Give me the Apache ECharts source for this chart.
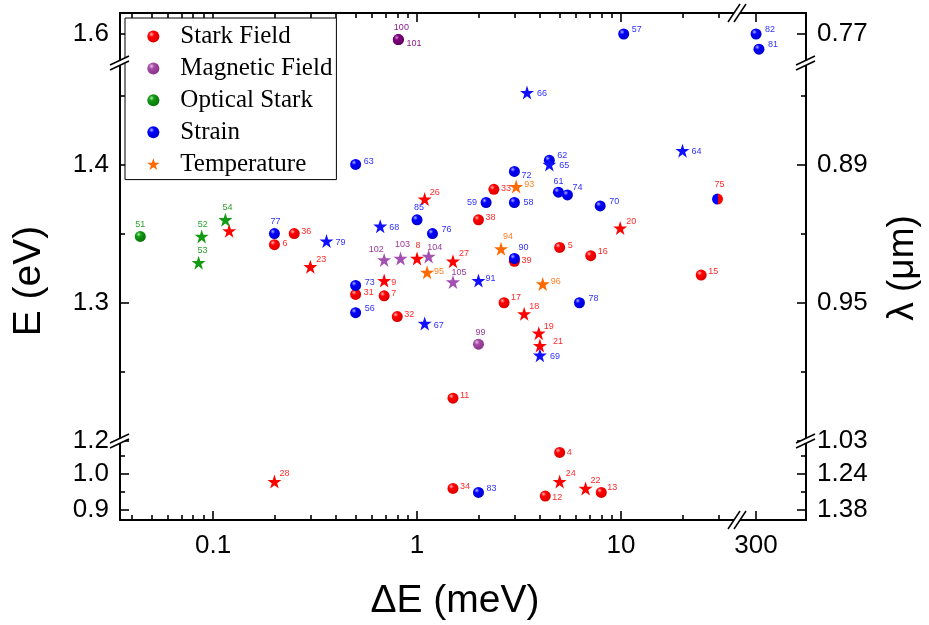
<!DOCTYPE html>
<html><head><meta charset="utf-8">
<script src="https://cdn.jsdelivr.net/npm/echarts@6/dist/echarts.min.js"></script>
<style>html,body{margin:0;padding:0;background:#fff}#c{width:929px;height:625px}</style>
</head><body><div id="c"></div>
<script>
// ---- Data: [ΔE (meV), E (eV), label] ----
const starkBalls = [[0.2,1.342,'6'],[0.25,1.350,'36'],[0.5,1.306,'31'],[0.69,1.305,'7'],[0.8,1.290,'32'],[2.0,1.360,'38'],[2.38,1.382,'33'],[3.0,1.330,'39'],[2.67,1.300,'17'],[5.0,1.340,'5'],[7.1,1.334,'16'],[24.7,1.320,'15'],[1.5,1.231,'11'],[1.5,0.959,'34'],[5.0,1.059,'4'],[4.25,0.938,'12'],[8.0,0.948,'13']];
const starkStrainBalls = [[29.7,1.375,'75']];
const starkStars = [[0.12,1.352,''],[0.3,1.326,'23'],[0.69,1.316,'9'],[1.0,1.332,'8'],[1.5,1.330,'27'],[1.09,1.375,'26'],[9.9,1.354,'20'],[3.35,1.292,'18'],[3.95,1.278,'19'],[4.0,1.269,'21'],[0.2,0.978,'28'],[5.0,0.978,'24'],[6.7,0.959,'22']];
const magBalls = [[2.0,1.270,'99']];
const magBallsDark = [[0.81,1.596,'100'],[0.81,1.596,'101']];
const magStars = [[0.69,1.331,'102'],[0.83,1.332,'103'],[1.14,1.3335,'104'],[1.5,1.315,'105']];
const optBalls = [[0.044,1.348,'51']];
const optStars = [[0.088,1.348,'52'],[0.085,1.329,'53'],[0.115,1.360,'54']];
const strainBalls = [[0.5,1.400,'63'],[0.2,1.350,'77'],[0.5,1.3125,'73'],[0.5,1.2928,'56'],[1.0,1.360,'85'],[1.19,1.350,'76'],[3.0,1.332,'90'],[6.25,1.300,'78'],[2.18,1.3725,'59'],[3.0,1.3725,'58'],[3.0,1.395,'72'],[4.45,1.403,'62'],[4.93,1.380,'61'],[5.46,1.378,'74'],[7.9,1.370,'70'],[10.3,1.600,'57'],[300,1.600,'82'],[310,1.589,'81'],[2.0,0.948,'83']];
const strainStars = [[0.36,1.3446,'79'],[0.66,1.3553,'68'],[2.0,1.316,'91'],[1.09,1.285,'67'],[4.0,1.262,'69'],[3.46,1.452,'66'],[4.45,1.400,'65'],[20,1.410,'64']];
const tempStars = [[3.06,1.384,'93'],[2.58,1.339,'94'],[1.12,1.322,'95'],[4.13,1.3136,'96']];
const legendNames = ['Stark Field','Magnetic Field','Optical Stark','Strain','Temperature'];

// ---- Tick values / labels ----
const xTickVals = [0.1, 1, 10, 300];
const xTickText = ['0.1', '1', '10', '300'];
const xMinorVals = [0.04,0.05,0.06,0.07,0.08,0.09,0.2,0.3,0.4,0.5,0.6,0.7,0.8,0.9,2,3,4,5,6,7,8,9,20,30];
const eTickVals = [1.6, 1.4, 1.3, 1.2, 1.0, 0.9];
const eTickText = ['1.6','1.4','1.3','1.2','1.0','0.9'];
const lambdaTickText = ['0.77','0.89','0.95','1.03','1.24','1.38'];
const eMinorVals = [1.45, 1.35, 1.25, 1.05, 0.95];

// ---- Broken-axis layout (pixels) and segment ranges ----
const gx = [120, 737, 806];
const gy = [13, 63, 441, 520];
const xRanges = [[0.035, 37], [242, 527]];
const yRanges = [[1.579, 1.6152], [1.2, 1.4734], [0.8714, 1.0908]];

// label placement style: [dx, dy, align]
const labelPlace = {
 '51':[0,-12,'center'],'52':[1,-12,'center'],'53':[4,-12,'center'],'54':[2,-12,'center'],'77':[1,-12,'center'],
 '6':[8,-1,'left'],'36':[7,-2,'left'],'79':[9,1,'left'],'23':[6,-7,'left'],'68':[9,1,'left'],
 '102':[-8,-10,'center'],'103':[2,-14,'center'],'8':[1,-13,'center'],'104':[6,-9,'center'],'27':[6,-8,'left'],
 '9':[7,2,'left'],'7':[7,-2,'left'],'73':[9,-3,'left'],'31':[8,-2,'left'],'56':[9,-4,'left'],
 '85':[2,-12,'center'],'76':[9,-4,'left'],'38':[7,-2,'left'],'95':[7,-1,'left'],'105':[6,-9,'center'],
 '91':[7,-2,'left'],'94':[7,-12,'center'],'90':[9,-11,'center'],'39':[7,-1,'left'],'5':[8,-2,'left'],
 '16':[7,-4,'left'],'20':[6,-7,'left'],'96':[8,-2,'left'],'17':[7,-5,'left'],'78':[9,-4,'left'],
 '18':[5,-7,'left'],'32':[7,-2,'left'],'67':[9,2,'left'],'19':[5,-7,'left'],'21':[13,-4,'left'],
 '69':[10,1,'left'],'99':[2,-12,'center'],'11':[7,-3,'left'],'59':[-9,0,'right'],'33':[7,-1,'left'],
 '93':[8,-2,'left'],'72':[7,4,'left'],'58':[9,0,'left'],'26':[5,-7,'left'],'62':[8,-5,'left'],
 '65':[10,1,'left'],'61':[0,-11,'center'],'74':[5,-7,'left'],'70':[9,-4,'left'],'66':[10,1,'left'],
 '57':[8,-4,'left'],'100':[3,-12,'center'],'101':[8,4,'left'],'82':[9,-4,'left'],'81':[9,-5,'left'],
 '64':[9,1,'left'],'75':[2,-15,'center'],'15':[7,-4,'left'],'28':[5,-8,'left'],'34':[7,-2,'left'],
 '83':[8,-4,'left'],'4':[7,0,'left'],'24':[6,-8,'left'],'22':[5,-8,'left'],'12':[7,1,'left'],'13':[6,-5,'left']
};

const STAR = 'path://M50,0 L61.8,35.3 L99,35.3 L69,57.1 L80.3,92.7 L50,70.9 L19.7,92.7 L31,57.1 L1,35.3 L38.2,35.3 Z';
function ball(c, light, dark) {
  return {type:'radial', x:0.35, y:0.32, r:0.75, colorStops:[{offset:0,color:light},{offset:0.3,color:c},{offset:1,color:dark}]};
}
const halfBall = {type:'linear', x:0, y:0, x2:1, y2:0, colorStops:[{offset:0,color:'#0000ff'},{offset:0.5,color:'#0000ff'},{offset:0.5,color:'#ff0000'},{offset:1,color:'#ff0000'}]};

const FONT = 'Liberation Sans';
function near(a, b) { return Math.abs(a - b) < 1e-6; }
function fmtX(v) { const i = xTickVals.findIndex(t => near(t, v)); return i >= 0 ? xTickText[i] : ''; }
function fmtE(v) { const i = eTickVals.findIndex(t => near(t, v)); return i >= 0 ? eTickText[i] : ''; }
function fmtL(v) { const i = eTickVals.findIndex(t => near(t, v)); return i >= 0 ? lambdaTickText[i] : ''; }

const grids = [], xAxes = [], yAxes = [];
const lineStyle = {color:'#000', width:2};
const tickStyle = {color:'#000', width:1.6};
for (let r = 0; r < 3; r++) for (let c = 0; c < 2; c++) {
  grids.push({left:gx[c], width:gx[c+1]-gx[c], top:gy[r], height:gy[r+1]-gy[r], containLabel:false, outerBoundsMode:'none'});
}
function inR(v, rg) { return v >= rg[0] - 1e-9 && v <= rg[1] + 1e-9; }
// data axes (index = grid index)
for (let r = 0; r < 3; r++) for (let c = 0; c < 2; c++) {
  const g = r*2 + c;
  const xm = xTickVals.filter(v => inR(v, xRanges[c]));
  xAxes.push({
    gridIndex:g, type:'log', logBase:10, min:xRanges[c][0], max:xRanges[c][1],
    position: r === 0 ? 'top' : 'bottom', show: r !== 1,
    axisLine:{show:true, onZero:false, lineStyle},
    axisTick:{show:true, inside:true, length:9, lineStyle:tickStyle, customValues:xm},
    axisLabel:{show: r === 2, customValues:xm, formatter:fmtX, fontSize:26, fontFamily:FONT, color:'#000', margin:13},
    splitLine:{show:false}, minorTick:{show:false}
  });
}
for (let r = 0; r < 3; r++) for (let c = 0; c < 2; c++) {
  const g = r*2 + c;
  const ym = eTickVals.filter(v => inR(v, yRanges[r]));
  yAxes.push({
    gridIndex:g, type:'value', min:yRanges[r][0], max:yRanges[r][1],
    position: c === 0 ? 'left' : 'right',
    axisLine:{show:true, onZero:false, lineStyle},
    axisTick:{show:true, inside:true, length:9, lineStyle:tickStyle, customValues:ym},
    axisLabel:{show:true, customValues:ym, formatter: c === 0 ? fmtE : fmtL, fontSize:26, fontFamily:FONT, color:'#000', margin:11},
    splitLine:{show:false}, minorTick:{show:false}
  });
}
// minor tick axes
for (const r of [0, 2]) {
  const c = 0, g = r*2 + c;
  xAxes.push({
    gridIndex:g, type:'log', logBase:10, min:xRanges[c][0], max:xRanges[c][1],
    position: r === 0 ? 'top' : 'bottom',
    axisLine:{show:false, onZero:false},
    axisTick:{show:true, inside:true, length:5, lineStyle:tickStyle, customValues:xMinorVals.filter(v => inR(v, xRanges[c]))},
    axisLabel:{show:false}, splitLine:{show:false}
  });
}
for (let r = 0; r < 3; r++) for (let c = 0; c < 2; c++) {
  const mv = eMinorVals.filter(v => inR(v, yRanges[r]));
  if (!mv.length) continue;
  yAxes.push({
    gridIndex:r*2+c, type:'value', min:yRanges[r][0], max:yRanges[r][1],
    position: c === 0 ? 'left' : 'right',
    axisLine:{show:false, onZero:false},
    axisTick:{show:true, inside:true, length:5, lineStyle:tickStyle, customValues:mv},
    axisLabel:{show:false}, splitLine:{show:false}
  });
}

const series = [];
function addSeries(name, pts, symbol, size, color, labelColor) {
  for (let r = 0; r < 3; r++) for (let c = 0; c < 2; c++) {
    const sub = pts.filter(p => inR(p[0], xRanges[c]) && inR(p[1], yRanges[r]));
    if (!sub.length && !(r === 1 && c === 0)) continue;
    series.push({
      type:'scatter', name, xAxisIndex:r*2+c, yAxisIndex:r*2+c, symbol, symbolSize:size,
      itemStyle:{color, opacity:1}, emphasis:{disabled:true}, animation:false,
      label:{show:true, position:'inside', formatter:'{b}', fontSize:9, fontFamily:FONT, color:labelColor, verticalAlign:'middle'},
      data: sub.map(p => { const lp = labelPlace[p[2]] || [8,-3,'left']; return {name:p[2], value:[p[0], p[1]], label:{offset:[lp[0], lp[1]], align:lp[2]}}; })
    });
  }
}
const RED = '#ff0000', BLUE = '#0000ff', GREEN = '#129a12', PURPLE = '#a64ca6', ORANGE = '#ff6a00';
addSeries('Stark Field', starkBalls, 'circle', 11, ball(RED, '#ffb8b8', '#d80000'), '#ff2a2a');
addSeries('Magnetic Field', magBalls, 'circle', 11, ball(PURPLE, '#e8c0e8', '#843084'), '#9a3a9a');
addSeries('Optical Stark', optBalls, 'circle', 11, ball(GREEN, '#a8e8a8', '#087008'), '#2ca02c');
addSeries('Strain', strainBalls, 'circle', 11, ball(BLUE, '#b0b0ff', '#0000c8'), '#3030ff');
addSeries('Temperature', tempStars, STAR, 14, ORANGE, '#ff7f27');
addSeries('Stark Field', starkStrainBalls, 'circle', 11, halfBall, '#ff2a2a');
addSeries('Magnetic Field', magBallsDark, 'circle', 11, ball('#800080', '#c890c8', '#600060'), '#8a1a8a');
addSeries('Stark Field', starkStars, STAR, 14, RED, '#ff2a2a');
addSeries('Magnetic Field', magStars, STAR, 14, '#a350b0', '#9a3a9a');
addSeries('Optical Stark', optStars, STAR, 14, GREEN, '#2ca02c');
addSeries('Strain', strainStars, STAR, 14, '#1010ff', '#3030ff');

// break marks and titles
const graphics = [];
function vBreak(X, Y) {
  graphics.push({type:'polygon', z:100, shape:{points:[[X-10,Y+2],[X+9,Y-7],[X+9,Y-2],[X-10,Y+7]]}, style:{fill:'#fff'}});
  graphics.push({type:'line', z:101, shape:{x1:X-10,y1:Y+2,x2:X+9,y2:Y-7}, style:{stroke:'#000', lineWidth:1.5}});
  graphics.push({type:'line', z:101, shape:{x1:X-10,y1:Y+7,x2:X+9,y2:Y-2}, style:{stroke:'#000', lineWidth:1.5}});
}
function hBreak(X, Y) {
  graphics.push({type:'polygon', z:100, shape:{points:[[X-9,Y+9],[X+3,Y-9],[X+9,Y-9],[X-3,Y+9]]}, style:{fill:'#fff'}});
  graphics.push({type:'line', z:101, shape:{x1:X-9,y1:Y+9,x2:X+3,y2:Y-9}, style:{stroke:'#000', lineWidth:1.5}});
  graphics.push({type:'line', z:101, shape:{x1:X-3,y1:Y+9,x2:X+9,y2:Y-9}, style:{stroke:'#000', lineWidth:1.5}});
}
vBreak(gx[0], gy[1]); vBreak(gx[0], gy[2]); vBreak(gx[2], gy[1]); vBreak(gx[2], gy[2]);
hBreak(gx[1], gy[0]); hBreak(gx[1], gy[3]);
graphics.push({type:'text', x:29, y:281, rotation:Math.PI/2, z:110, style:{text:'E (eV)', fontSize:39, fontFamily:FONT, fill:'#000', align:'center', verticalAlign:'middle'}});
graphics.push({type:'text', x:455, y:601, z:110, style:{text:'\u0394E (meV)', fontSize:39, fontFamily:FONT, fill:'#000', align:'center', verticalAlign:'middle'}});
graphics.push({type:'text', x:903, y:268, rotation:Math.PI/2, z:110, style:{text:'\u03bb (\u03bcm)', fontSize:37, fontFamily:FONT, fill:'#000', align:'center', verticalAlign:'middle'}});

const chart = echarts.init(document.getElementById('c'), null, {renderer:'canvas'});
chart.setOption({
  animation:false, backgroundColor:'#fff',
  textStyle:{fontFamily:FONT},
  grid:grids, xAxis:xAxes, yAxis:yAxes, series,
  legend:{
    data:legendNames, orient:'vertical', left:125, top:18, selectedMode:false,
    itemWidth:44, itemHeight:12, itemGap:6.9, padding:[6,4,3,22],
    borderColor:'#000', borderWidth:1, backgroundColor:'#fff',
    textStyle:{fontFamily:'Liberation Serif', fontSize:25, color:'#000', lineHeight:22}
  },
  graphic:{elements:graphics}
});
</script></body></html>
